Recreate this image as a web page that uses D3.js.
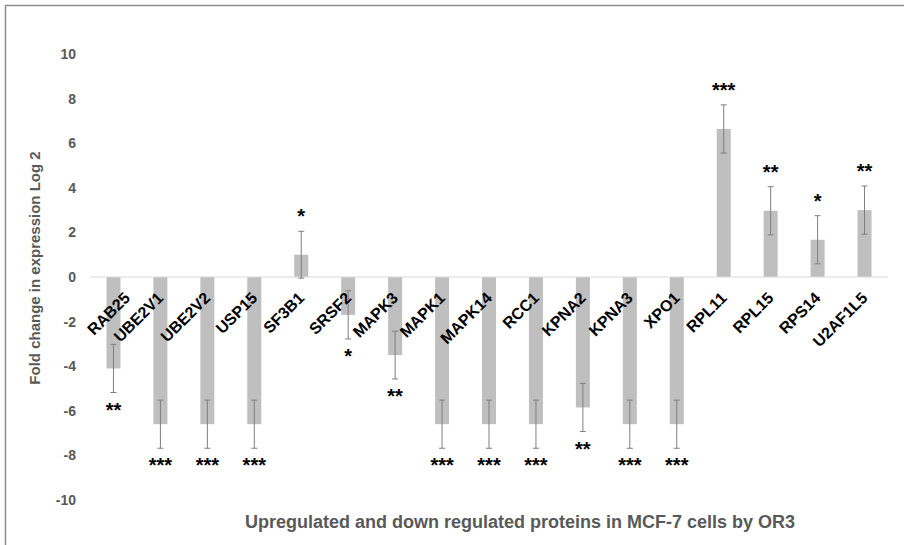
<!DOCTYPE html>
<html><head><meta charset="utf-8">
<script src="https://cdn.jsdelivr.net/npm/d3@7"></script>
<style>body{margin:0;background:#fff}svg{display:block}</style>
</head><body>
<script>
const categories = ["RAB25","UBE2V1","UBE2V2","USP15","SF3B1","SRSF2","MAPK3","MAPK1","MAPK14","RCC1","KPNA2","KPNA3","XPO1","RPL11","RPL15","RPS14","U2AF1L5"];
const values = [-4.1,-6.6,-6.6,-6.6,1.0,-1.7,-3.5,-6.6,-6.6,-6.6,-5.85,-6.6,-6.6,6.64,2.97,1.67,3.0];
const errors = [1.08,1.08,1.08,1.08,1.05,1.08,1.07,1.08,1.08,1.08,1.08,1.08,1.08,1.08,1.08,1.08,1.08];
const significance = ["**","***","***","***","*","*","**","***","***","***","**","***","***","***","**","*","**"];
const yTicks = [-10,-8,-6,-4,-2,0,2,4,6,8,10];
const yTitle = "Fold change in expression Log 2";
const xTitle = "Upregulated and down regulated proteins in MCF-7 cells by OR3";

const W = 904, H = 545;
const FONT = "Liberation Sans, Arial, sans-serif";
const svg = d3.select("body").append("svg").attr("width", W).attr("height", H);
svg.append("rect").attr("width", W).attr("height", H).attr("fill", "#fff");
svg.append("rect").attr("x", 5.5).attr("y", 5.5).attr("width", W + 10).attr("height", H + 10)
  .attr("fill", "none").attr("stroke", "#8c8c8c").attr("stroke-width", 1.5);

const x = d3.scaleBand().domain(categories).range([90, 888]).paddingInner(0.7).paddingOuter(0.35);
const y = d3.scaleLinear().domain([-10, 10]).range([500, 54]);

// y tick labels
const yAxis = d3.axisLeft(y).tickValues(yTicks).tickSize(0).tickPadding(0).tickFormat((d) => String(d));
const gy = svg.append("g").attr("transform", "translate(76,0)").call(yAxis);
gy.select(".domain").remove();
gy.selectAll("text").attr("font-family", FONT)
  .attr("font-size", 14).attr("font-weight", "bold").attr("fill", "#595959");

// bars
const bw = 14;
svg.append("g").selectAll("rect").data(categories).join("rect")
  .attr("x", (d) => x(d) + x.bandwidth()/2 - bw/2)
  .attr("width", bw)
  .attr("y", (d, i) => y(Math.max(0, values[i])))
  .attr("height", (d, i) => Math.abs(y(values[i]) - y(0)))
  .attr("fill", "#bfbfbf");

// zero line
svg.append("line").attr("x1", 90).attr("x2", 888).attr("y1", y(0)).attr("y2", y(0))
  .attr("stroke", "#d9d9d9").attr("stroke-width", 1);

// error bars
const eg = svg.append("g").attr("stroke", "#7f7f7f").attr("stroke-width", 1);
categories.forEach((c, i) => {
  const cx = x(c) + x.bandwidth()/2;
  const y1 = y(values[i] + errors[i]), y2 = y(values[i] - errors[i]);
  eg.append("line").attr("x1", cx).attr("x2", cx).attr("y1", y1).attr("y2", y2);
  eg.append("line").attr("x1", cx - 3).attr("x2", cx + 3).attr("y1", y1).attr("y2", y1);
  eg.append("line").attr("x1", cx - 3).attr("x2", cx + 3).attr("y1", y2).attr("y2", y2);
});

// significance stars
svg.append("g").selectAll("text").data(categories).join("text")
  .attr("x", (d) => x(d) + x.bandwidth()/2)
  .attr("y", (d, i) => values[i] >= 0 ? y(values[i] + errors[i]) - 8 : y(values[i] - errors[i]) + 24)
  .attr("text-anchor", "middle")
  .attr("font-family", FONT)
  .attr("font-size", 20).attr("font-weight", "bold").attr("fill", "#000")
  .text((d, i) => significance[i]);

// category labels (rotated, end-anchored; shifted right if they would leave the plot at left)
const lg = svg.append("g");
categories.forEach((c) => {
  const ax = x(c) + x.bandwidth()/2 + 4, ay = y(0) + 22;
  const t = lg.append("text")
    .attr("text-anchor", "end")
    .attr("font-family", FONT)
    .attr("font-size", 16).attr("font-weight", "bold").attr("fill", "#000")
    .text(c);
  const len = t.node().getComputedTextLength();
  const left = ax - len * Math.SQRT1_2 - 8;
  const shift = left < 86 ? 86 - left : 0;
  t.attr("transform", `translate(${ax + shift},${ay}) rotate(-45)`);
});

// axis titles
svg.append("text").attr("transform", `translate(40,268) rotate(-90)`)
  .attr("text-anchor", "middle")
  .attr("font-family", FONT)
  .attr("font-size", 15).attr("font-weight", "bold").attr("fill", "#595959")
  .text(yTitle);
svg.append("text").attr("x", 520).attr("y", 528)
  .attr("text-anchor", "middle")
  .attr("font-family", FONT)
  .attr("font-size", 18).attr("font-weight", "bold").attr("fill", "#595959")
  .text(xTitle);
</script>
</body></html>
